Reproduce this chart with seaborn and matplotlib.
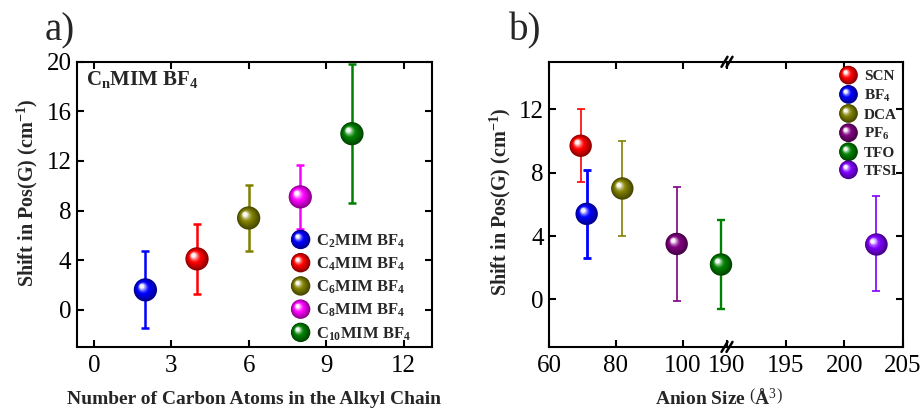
import numpy as np
import pandas as pd
import matplotlib
matplotlib.use("Agg")
import matplotlib.pyplot as plt
import seaborn as sns
from matplotlib.colors import to_rgb
from matplotlib.lines import Line2D
from matplotlib.patches import Circle
from matplotlib.legend_handler import HandlerBase
from matplotlib.transforms import offset_copy

# ---------------- data ----------------
carbon_atoms = [2, 4, 6, 8, 10]
shift_a = [1.6, 4.1, 7.4, 9.1, 14.2]
err_a = [3.1, 2.8, 2.7, 2.6, 5.6]
labels_a = [r"C$_\mathbf{2}$MIM BF$_\mathbf{4}$", r"C$_\mathbf{4}$MIM BF$_\mathbf{4}$",
            r"C$_\mathbf{6}$MIM BF$_\mathbf{4}$", r"C$_\mathbf{8}$MIM BF$_\mathbf{4}$",
            r"C$_\mathbf{10}$MIM BF$_\mathbf{4}$"]
colors_a = ["#0000FF", "#FF0000", "#808000", "#FF00FF", "#008000"]

anion_size = [69.4, 71.2, 81.9, 98.2, 111.5, 202.7]
shift_b = [9.7, 5.4, 7.0, 3.5, 2.2, 3.5]
err_b = [2.3, 2.8, 3.0, 3.6, 2.8, 3.0]
labels_b = ["SCN", r"BF$_\mathbf{4}$", "DCA", r"PF$_\mathbf{6}$", "TFO", "TFSI"]
colors_b = ["#FF0000", "#0000FF", "#808000", "#800080", "#008000", "#8000FF"]
errlw_b = [1.2, 2.0, 1.2, 1.2, 1.7, 1.2]

df_a = pd.DataFrame({"x": carbon_atoms, "y": shift_a, "err": err_a, "label": labels_a})
df_b = pd.DataFrame({"x": anion_size, "y": shift_b, "err": err_b, "label": labels_b})

# ---------------- style ----------------
sns.set_theme(style="ticks")
plt.rcParams["font.family"] = ["Liberation Serif", "DejaVu Serif"]
plt.rcParams["mathtext.fontset"] = "custom"
plt.rcParams["mathtext.rm"] = "Liberation Serif"
plt.rcParams["mathtext.bf"] = "Liberation Serif:bold"
plt.rcParams["mathtext.it"] = "Liberation Serif:italic"
plt.rcParams["axes.linewidth"] = 1.5
plt.rcParams["axes.edgecolor"] = "black"


def shade(c, t):
    rgb = np.array(to_rgb(c))
    dark = rgb * 0.55
    if t < 0.55:
        out = dark + (rgb - dark) * (t / 0.55)
    else:
        u = (t - 0.55) / 0.45
        out = rgb + (1 - rgb) * (u ** 1.4) * 0.95
    return tuple(np.clip(out, 0, 1))


def draw_spheres(ax, df, colors, size, clip=True):
    # layered circles offset toward upper-left -> shiny ball look
    r = np.sqrt(size) / 2
    n = 12
    for k in range(n):
        t = k / (n - 1)
        rad = r * (1 - 0.8 * t)
        T = offset_copy(ax.transData, fig=ax.figure, x=-0.3 * r * t, y=0.3 * r * t, units="points")
        pal = {lab: shade(c, t) for lab, c in zip(df["label"], colors)}
        sns.scatterplot(data=df, x="x", y="y", hue="label", palette=pal, s=(2 * rad) ** 2,
                        linewidth=0, legend=False, ax=ax, transform=T, clip_on=clip,
                        zorder=5 + k * 0.01)


class SphereHandler(HandlerBase):
    def __init__(self, diam):
        super().__init__()
        self.diam = diam

    def create_artists(self, legend, orig_handle, xdescent, ydescent, width, height, fontsize, trans):
        c = orig_handle.get_color()
        cx = width / 2 - xdescent
        cy = height / 2 - ydescent
        r = self.diam / 2
        arts = []
        n = 12
        for k in range(n):
            t = k / (n - 1)
            arts.append(Circle((cx - 0.3 * r * t, cy + 0.3 * r * t), r * (1 - 0.8 * t),
                               facecolor=shade(c, t), edgecolor="none", transform=trans))
        return arts


def style_ticks(ax, **kw):
    ax.tick_params(direction="in", length=5, width=1.5, labelsize=18, colors="black", **kw)


fig = plt.figure(figsize=(9.22, 4.12), dpi=100)

# ---------------- panel a ----------------
ax = fig.add_axes([0.0835, 0.158, 0.385, 0.692])
for i, row in df_a.iterrows():
    ax.errorbar(row["x"], row["y"], yerr=row["err"], fmt="none", ecolor=colors_a[i],
                elinewidth=1.8, capsize=3, capthick=1.8, zorder=3)
draw_spheres(ax, df_a, colors_a, 280)
ax.set_xlim(-0.65, 13.1)
ax.set_ylim(-3, 20)
ax.set_xticks([0, 3, 6, 9, 12])
ax.set_yticks([0, 4, 8, 12, 16, 20])
style_ticks(ax, top=True, right=True)
ax.tick_params(axis="x", pad=6)
ax.tick_params(axis="y", pad=4)
ax.set_xlabel("Number of Carbon Atoms in the Alkyl Chain", fontsize=14, fontweight="bold")
ax.set_ylabel(r"Shift in Pos(G) (cm$^{\mathbf{-1}}$)", fontsize=14.5, fontweight="bold")
ax.xaxis.set_label_coords(0.5, -0.155)
ax.yaxis.set_label_coords(-0.105, 0.54)
ax.text(0.025, 0.937, r"C$_\mathbf{n}$MIM BF$_\mathbf{4}$", transform=ax.transAxes,
        fontsize=15, fontweight="bold", va="center", ha="left")
handles_a = [Line2D([], [], color=c) for c in colors_a]
ax.legend(handles_a, labels_a, handler_map={Line2D: SphereHandler(14)}, loc="upper left",
          bbox_to_anchor=(0.603, 0.402), frameon=False, prop={"weight": "bold", "size": 12},
          handlelength=1.15, handletextpad=0.35, labelspacing=0.35, borderpad=0, borderaxespad=0)

# ---------------- panel b (broken x axis) ----------------
axL = fig.add_axes([0.5958, 0.158, 0.1927, 0.692])
axR = fig.add_axes([0.5958 + 0.1927, 0.158, 0.1906, 0.692], sharey=axL)
axR.patch.set_visible(False)

left_mask = df_b["x"] < 150
dfL = df_b[left_mask].reset_index(drop=True)
dfR = df_b[~left_mask].reset_index(drop=True)
colL = [c for c, m in zip(colors_b, left_mask) if m]
colR = [c for c, m in zip(colors_b, left_mask) if not m]

for a, d in ((axL, df_b[left_mask]), (axR, df_b[~left_mask])):
    for i, row in d.iterrows():
        a.errorbar(row["x"], row["y"], yerr=row["err"], fmt="none", ecolor=colors_b[i],
                   elinewidth=errlw_b[i], capsize=3, capthick=errlw_b[i], zorder=3, clip_on=False)
draw_spheres(axL, dfL, colL, 260, clip=False)
draw_spheres(axR, dfR, colR, 260, clip=False)

axL.set_xlim(60, 113.3)
axR.set_xlim(190, 205)
axL.set_ylim(-3, 15)
axL.set_xticks([60, 80, 100])
axR.set_xticks([190, 195, 200, 205])
axL.set_yticks([0, 4, 8, 12])
axL.spines["right"].set_visible(False)
axR.spines["left"].set_visible(False)
style_ticks(axL, top=True, right=False)
style_ticks(axR, top=True, right=True, left=False, labelleft=False)
for a in (axL, axR):
    a.tick_params(axis="x", pad=6)
    a.tick_params(axis="y", pad=4)
axR.set_xlabel("")
axR.set_ylabel("")
axL.set_xlabel(r"Anion Size $\left(\mathbf{\AA}^{3}\right)$", fontsize=14, fontweight="bold")
axL.xaxis.set_label_coords(0.955, -0.145)
axL.set_ylabel(r"Shift in Pos(G) (cm$^{\mathbf{-1}}$)", fontsize=14.5, fontweight="bold")
axL.yaxis.set_label_coords(-0.205, 0.51)

# break marks "//"
wpx, hpx = 177.7, 285.0
for y0 in (0.0, 1.0):
    for off in (-2.5, 2.5):
        axL.plot([1 + (off - 3) / wpx, 1 + (off + 3) / wpx], [y0 - 5 / hpx, y0 + 5 / hpx],
                 color="black", lw=1.8, transform=axL.transAxes, clip_on=False, zorder=10)

handles_b = [Line2D([], [], color=c) for c in colors_b]
axR.legend(handles_b, labels_b, handler_map={Line2D: SphereHandler(13.5)}, loc="upper left",
           bbox_to_anchor=(0.637, 0.972), frameon=False, prop={"weight": "bold", "size": 11},
           handlelength=1.25, handletextpad=0.4, labelspacing=0.28, borderpad=0, borderaxespad=0)

fig.text(45 / 922, 0.925, "a)", fontsize=28, va="center", ha="left")
fig.text(509 / 922, 0.925, "b)", fontsize=28, va="center", ha="left")

fig.savefig("out.png", dpi=100)
